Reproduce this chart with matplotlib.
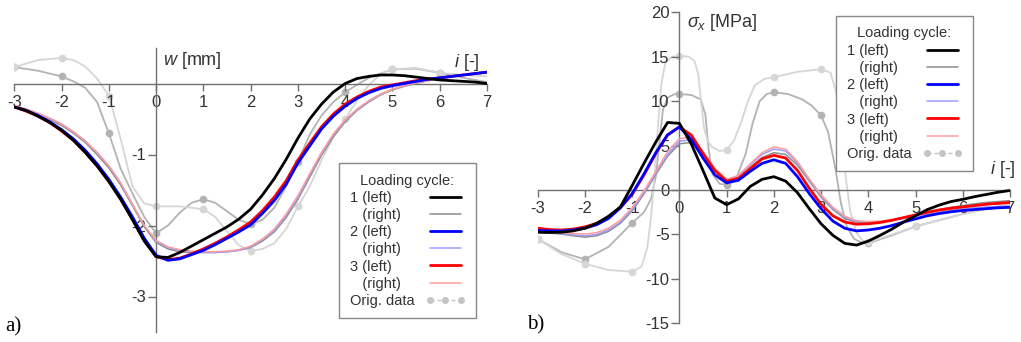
import numpy as np
import matplotlib
matplotlib.use("Agg")
import matplotlib.pyplot as plt
from matplotlib.lines import Line2D

plt.rcParams['font.family'] = ['Liberation Sans', 'DejaVu Sans']
plt.rcParams['mathtext.fontset'] = 'custom'
plt.rcParams['mathtext.rm'] = 'Liberation Sans'
plt.rcParams['mathtext.it'] = 'Liberation Sans:italic'

# ---------------- data ----------------
i_grid = np.linspace(-3, 7, 41)          # i = -3, -2.75, ..., 7
i_int = np.arange(-3, 8)                 # integer positions of original data

# (a) vertical displacement w [mm]
w_1L = [-0.33, -0.38, -0.46, -0.55, -0.66, -0.80, -0.97, -1.16, -1.38, -1.63, -1.92, -2.22, -2.44,
        -2.45, -2.38, -2.29, -2.20, -2.11, -2.02, -1.91, -1.77, -1.57, -1.34, -1.07, -0.77, -0.50,
        -0.29, -0.12, 0.00, 0.07, 0.10, 0.12, 0.12, 0.11, 0.09, 0.07, 0.05, 0.04, 0.03, 0.02, 0.00]
w_1R = [-0.32, -0.37, -0.43, -0.51, -0.59, -0.70, -0.83, -1.00, -1.19, -1.43, -1.72, -2.02, -2.24,
        -2.33, -2.37, -2.38, -2.38, -2.38, -2.37, -2.35, -2.31, -2.22, -2.09, -1.89, -1.63, -1.32,
        -1.01, -0.75, -0.54, -0.38, -0.26, -0.16, -0.09, -0.04, 0.00, 0.04, 0.07, 0.10, 0.12, 0.14, 0.16]
w_2L = [-0.33, -0.38, -0.45, -0.54, -0.65, -0.78, -0.94, -1.13, -1.35, -1.60, -1.88, -2.18, -2.42,
        -2.49, -2.47, -2.41, -2.35, -2.27, -2.18, -2.09, -1.99, -1.83, -1.65, -1.42, -1.12, -0.88,
        -0.64, -0.46, -0.32, -0.21, -0.13, -0.07, -0.03, 0.00, 0.03, 0.06, 0.08, 0.10, 0.12, 0.14, 0.16]
w_2R = [-0.31, -0.36, -0.42, -0.49, -0.57, -0.68, -0.81, -0.97, -1.16, -1.40, -1.70, -2.00, -2.22,
        -2.31, -2.35, -2.37, -2.38, -2.38, -2.37, -2.35, -2.30, -2.20, -2.07, -1.86, -1.60, -1.29,
        -0.98, -0.72, -0.52, -0.37, -0.25, -0.15, -0.08, -0.03, 0.01, 0.04, 0.07, 0.10, 0.12, 0.14, 0.16]
w_3L = [-0.33, -0.39, -0.46, -0.55, -0.67, -0.80, -0.97, -1.16, -1.38, -1.63, -1.91, -2.21, -2.44,
        -2.48, -2.46, -2.40, -2.33, -2.25, -2.16, -2.06, -1.95, -1.79, -1.60, -1.37, -1.08, -0.84,
        -0.61, -0.43, -0.29, -0.19, -0.11, -0.05, -0.02, 0.01, 0.04, 0.06, 0.08, 0.10, 0.12, 0.14, 0.16]
w_3R = [-0.31, -0.36, -0.42, -0.49, -0.57, -0.68, -0.81, -0.97, -1.16, -1.40, -1.70, -2.00, -2.21,
        -2.30, -2.34, -2.36, -2.37, -2.37, -2.36, -2.34, -2.29, -2.19, -2.05, -1.84, -1.58, -1.27,
        -0.97, -0.71, -0.51, -0.36, -0.24, -0.15, -0.08, -0.03, 0.01, 0.04, 0.07, 0.10, 0.12, 0.14, 0.16]

w_origA_dots = [0.23, 0.10, -0.70, -2.11, -1.63, -1.98, -1.10, -0.12, 0.20, 0.15, np.nan]
w_origB_dots = [0.23, 0.36, -0.17, -1.73, -1.77, -2.36, -1.73, -0.50, 0.20, 0.15, np.nan]
w_origA_x = [-3, -2.5, -2, -1.75, -1.5, -1.25, -1, -0.75, -0.5, -0.25, 0, 0.25, 0.5, 0.75, 1, 1.25,
             1.5, 1.75, 2, 2.25, 2.5, 2.75, 3, 3.25, 3.5, 3.75, 4, 4.5, 5, 5.5, 6, 6.5, 7]
w_origA_y = [0.23, 0.18, 0.10, 0.03, -0.06, -0.26, -0.70, -1.20, -1.55, -1.88, -2.11, -2.00, -1.82,
             -1.68, -1.63, -1.68, -1.80, -1.92, -1.98, -1.92, -1.75, -1.45, -1.10, -0.72, -0.45,
             -0.26, -0.12, 0.08, 0.20, 0.21, 0.15, 0.08, 0.02]
w_origB_x = [-3, -2.5, -2, -1.75, -1.5, -1.25, -1, -0.75, -0.5, -0.25, 0, 0.25, 0.5, 0.75, 1, 1.25,
             1.5, 1.75, 2, 2.25, 2.5, 2.75, 3, 3.25, 3.5, 3.75, 4, 4.25, 4.5, 4.75, 5, 5.5, 6, 6.5, 7]
w_origB_y = [0.23, 0.33, 0.36, 0.33, 0.24, 0.07, -0.17, -0.78, -1.45, -1.69, -1.73, -1.73, -1.73,
             -1.75, -1.77, -1.88, -2.08, -2.28, -2.36, -2.33, -2.25, -2.05, -1.73, -1.45, -1.08,
             -0.75, -0.50, -0.24, -0.02, 0.13, 0.20, 0.22, 0.15, 0.12, 0.10]

# (b) stress sigma_x [MPa]
s_1L = [-4.75, -4.78, -4.75, -4.60, -4.30, -3.75, -2.95, -1.90, 0.50, 3.00, 5.40, 7.60, 7.50,
        5.20, 2.20, -0.90, -1.65, -1.00, 0.40, 1.20, 1.50, 1.00, -0.30, -2.10, -3.80, -5.10,
        -6.00, -6.20, -5.75, -5.10, -4.40, -3.60, -2.90, -2.20, -1.70, -1.30, -1.05, -0.75,
        -0.50, -0.25, -0.05]
s_1R = [-4.75, -4.85, -4.95, -5.15, -5.30, -5.15, -4.65, -3.75, -2.35, -0.45, 1.75, 3.80, 5.20,
        5.35, 4.10, 2.25, 1.05, 1.40, 2.55, 3.65, 4.20, 4.00, 2.80, 1.00, -0.80, -2.20, -3.20,
        -3.65, -3.70, -3.60, -3.40, -3.10, -2.80, -2.50, -2.20, -1.95, -1.75, -1.55, -1.40,
        -1.30, -1.20]
s_2L = [-4.55, -4.60, -4.62, -4.50, -4.30, -3.90, -3.20, -2.00, -0.40, 1.80, 4.20, 6.20, 7.10,
        5.70, 3.60, 1.70, 0.80, 1.10, 2.10, 3.00, 3.40, 3.00, 1.50, -0.40, -2.10, -3.50, -4.30,
        -4.60, -4.50, -4.30, -4.00, -3.60, -3.25, -2.90, -2.65, -2.45, -2.30, -2.20, -2.10,
        -2.00, -1.95]
s_2R = [-4.70, -4.80, -4.90, -5.05, -5.15, -5.00, -4.50, -3.60, -2.20, -0.30, 1.90, 4.00, 5.50,
        5.65, 4.25, 2.35, 1.12, 1.55, 2.80, 4.00, 4.60, 4.40, 3.05, 1.15, -0.65, -2.05, -3.05,
        -3.55, -3.65, -3.60, -3.45, -3.20, -2.95, -2.70, -2.45, -2.25, -2.10, -2.00, -1.90,
        -1.85, -1.80]
s_3L = [-4.30, -4.45, -4.50, -4.40, -4.15, -3.75, -3.10, -2.00, -0.50, 1.70, 4.10, 6.20, 7.10,
        6.20, 4.10, 2.20, 1.00, 1.30, 2.40, 3.50, 3.90, 3.60, 2.20, 0.20, -1.60, -2.90, -3.60,
        -3.85, -3.80, -3.65, -3.40, -3.10, -2.80, -2.50, -2.25, -2.05, -1.90, -1.75, -1.60,
        -1.50, -1.40]
s_3R = [-4.60, -4.70, -4.80, -4.90, -4.95, -4.80, -4.30, -3.40, -2.00, -0.10, 2.10, 4.30, 5.80,
        5.90, 4.35, 2.45, 1.20, 1.65, 2.95, 4.20, 4.85, 4.60, 3.20, 1.25, -0.55, -1.95, -2.95,
        -3.45, -3.55, -3.50, -3.35, -3.10, -2.85, -2.60, -2.35, -2.15, -1.95, -1.80, -1.65,
        -1.55, -1.45]

s_origA_dots = [-5.5, -7.8, -3.7, 10.8, 0.6, 11.0, 8.4, -6.0, -4.1, np.nan, np.nan]
s_origB_dots = [-5.5, -8.3, -9.2, 15.1, 4.5, 12.7, 13.6, -5.9, -4.1, np.nan, np.nan]
s_origA_x = [-3, -2.5, -2, -1.5, -1, -0.75, -0.6, -0.5, -0.42, -0.35, -0.25, -0.1, 0, 0.25, 0.45,
             0.55, 0.62, 0.7, 0.85, 1, 1.2, 1.4, 1.55, 1.7, 1.85, 2, 2.3, 2.6, 2.8, 3, 3.15, 3.3,
             3.42, 3.55, 3.7, 3.85, 4, 4.5, 5, 5.5, 6, 6.5, 7]
s_origA_y = [-5.5, -7.0, -7.8, -6.4, -3.7, -2.5, -1.0, 1.5, 5.5, 9.0, 10.4, 10.8, 10.8, 10.7, 10.2,
             8.5, 4.5, 1.8, 0.7, 0.6, 1.3, 4.0, 7.5, 10.0, 10.8, 11.0, 10.8, 10.2, 9.5, 8.4, 6.5,
             2.5, -1.5, -4.2, -5.5, -5.9, -6.0, -5.1, -4.1, -3.4, -2.7, -2.1, -1.6]
s_origB_x = [-3, -2.5, -2, -1.5, -1, -0.8, -0.68, -0.6, -0.52, -0.45, -0.38, -0.3, -0.15, 0, 0.2,
             0.32, 0.4, 0.46, 0.52, 0.6, 0.7, 0.85, 1, 1.15, 1.3, 1.45, 1.6, 1.8, 2, 2.5, 3, 3.2,
             3.32, 3.42, 3.52, 3.62, 3.75, 3.88, 4, 4.5, 5, 5.5, 6, 6.5, 7]
s_origB_y = [-5.5, -7.2, -8.3, -9.0, -9.2, -8.6, -6.5, -3.0, 2.0, 7.5, 12.0, 14.3, 15.0, 15.1, 15.0,
             14.5, 13.0, 10.0, 7.0, 5.5, 4.8, 4.4, 4.5, 5.5, 7.5, 10.0, 11.8, 12.5, 12.7, 13.3, 13.6,
             13.2, 11.0, 6.5, 1.5, -2.5, -4.8, -5.7, -5.9, -5.0, -4.1, -3.4, -2.7, -2.1, -1.6]

x_ticks = list(range(-3, 8))
w_ticks = [-3, -2, -1]
s_ticks = [-15, -10, -5, 0, 5, 10, 15, 20]

labels = ['1 (left)', '   (right)', '2 (left)', '   (right)', '3 (left)', '   (right)']
colors = ['#000000', '#8c8c8c', '#0000ff', '#9c9cff', '#ff0000', '#ff9c9c']
widths = [2.0, 1.1, 2.0, 1.1, 2.0, 1.1]

# ---------------- figure ----------------
W, H = 1021, 342
fig = plt.figure(figsize=(W / 100, H / 100), dpi=100)

ax_a = fig.add_axes([14.3 / W, 1 - 332 / H, (487 - 14.3) / W, (332 - 48) / H])
ax_b = fig.add_axes([537.7 / W, 1 - 323.3 / H, (1010 - 537.7) / W, (323.3 - 12.3) / H])

orig_dark = '#b3b3b3'
orig_light = '#d6d6d6'
axis_col = '#707070'
text_col = '#333333'


def style_axes(ax, xlim, ylim, yticks):
    ax.set_xlim(*xlim)
    ax.set_ylim(*ylim)
    for s in ['top', 'right']:
        ax.spines[s].set_visible(False)
    ax.spines['left'].set_position(('data', 0))
    ax.spines['bottom'].set_position(('data', 0))
    for s in ['left', 'bottom']:
        ax.spines[s].set_color(axis_col)
        ax.spines[s].set_linewidth(1.0)
    ax.set_xticks(x_ticks)
    ax.set_xticklabels([str(t) for t in x_ticks])
    ax.set_yticks(yticks)
    ax.set_yticklabels([str(t) for t in yticks])
    ax.tick_params(axis='x', direction='out', length=5, width=1, color=axis_col,
                   labelsize=12, labelcolor=text_col, pad=3)
    ax.tick_params(axis='y', direction='out', length=5.5, width=1, color=axis_col,
                   labelsize=12, labelcolor=text_col, pad=1.5)
    ax.patch.set_alpha(0)


def draw(ax, series, oA, oB, dA, dB):
    ax.plot(oA[0], oA[1], color=orig_dark, lw=1.3, zorder=1)
    ax.plot(oB[0], oB[1], color=orig_light, lw=1.3, zorder=1)
    ax.plot(i_int, dA, 'o', color=orig_dark, ms=4.5, zorder=1)
    ax.plot(i_int, dB, 'o', color=orig_light, ms=4.5, zorder=1)
    handles = [None] * 6
    order = [1, 3, 5, 4, 2, 0]
    for k in order:
        ln, = ax.plot(i_grid, series[k], color=colors[k], lw=widths[k], zorder=3 + order.index(k),
                      solid_capstyle='round', solid_joinstyle='round')
        handles[k] = ln
    return handles


style_axes(ax_a, (-3, 7), (-3.5, 0.5), w_ticks)
ha = draw(ax_a, [w_1L, w_1R, w_2L, w_2R, w_3L, w_3R],
          (w_origA_x, w_origA_y), (w_origB_x, w_origB_y), w_origA_dots, w_origB_dots)

style_axes(ax_b, (-3, 7), (-15, 20), s_ticks)
hb = draw(ax_b, [s_1L, s_1R, s_2L, s_2R, s_3L, s_3R],
          (s_origA_x, s_origA_y), (s_origB_x, s_origB_y), s_origA_dots, s_origB_dots)

# axis labels
ax_a.text(0.14, 0.33, '$w$ [mm]', fontsize=13, color=text_col, ha='left', va='center')
ax_a.text(6.85, 0.30, '$i$ [-]', fontsize=13, color=text_col, ha='right', va='center')
ax_b.text(0.16, 18.8, r'$\sigma_x$ [MPa]', fontsize=13, color=text_col, ha='left', va='center')
ax_b.text(7.12, 2.3, '$i$ [-]', fontsize=13, color=text_col, ha='right', va='center')

fig.text(5 / W, 1 - 327 / H, 'a)', fontsize=15, family='Liberation Serif', va='center', ha='left')
fig.text(527 / W, 1 - 325 / H, 'b)', fontsize=15, family='Liberation Serif', va='center', ha='left')

orig_proxy = Line2D([], [], color='#c4c4c4', lw=1.0, ls=(0, (3, 2)), marker='o', ms=4,
                    markerfacecolor='#c4c4c4', markeredgecolor='#c4c4c4')


def add_legend(ax, handles, x0, y0):
    leg = ax.legend(handles + [orig_proxy], labels + ['Orig. data'], title='Loading cycle:',
                    loc='upper left', bbox_to_anchor=(x0 / W, 1 - y0 / H),
                    bbox_transform=fig.transFigure, borderaxespad=0,
                    fontsize=10.5, title_fontsize=10.5, markerfirst=False, numpoints=3,
                    handlelength=2.7, handletextpad=0.8, labelspacing=0.22, borderpad=0.72,
                    fancybox=False, framealpha=1, edgecolor='#888888', facecolor='white')
    leg.get_frame().set_linewidth(1.0)
    for t in leg.get_texts():
        t.set_color(text_col)
    leg.get_title().set_color(text_col)
    leg.set_zorder(20)
    return leg


leg_a = add_legend(ax_a, ha, 339, 163)
leg_b = add_legend(ax_b, hb, 836, 16)


def left_align_texts(leg):
    # rows are right-aligned when markerfirst=False; widen the gap so the labels start flush left
    renderer = fig.canvas.get_renderer()
    texts = leg.get_texts()
    tw = [t.get_window_extent(renderer).width for t in texts]
    maxw = max(tw)
    p2px = renderer.points_to_pixels(1.0)
    base = leg.handletextpad * leg._fontsize
    try:
        col = leg._legend_handle_box.get_children()[0]
        for row, w in zip(col.get_children(), tw):
            row.sep = base + (maxw - w) / p2px
    except Exception:
        pass


fig.canvas.draw()
left_align_texts(leg_a)
left_align_texts(leg_b)

fig.savefig('out.png', dpi=100)
